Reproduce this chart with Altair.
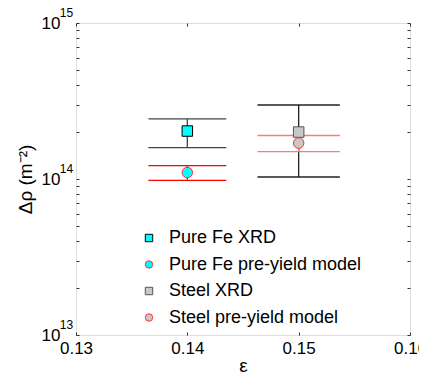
import altair as alt
import pandas as pd

# ---- data ----
series = ["Pure Fe XRD", "Pure Fe pre-yield model", "Steel XRD", "Steel pre-yield model"]
strain = [0.14, 0.14, 0.15, 0.15]
rho_center = [2.03e14, 1.10e14, 2.00e14, 1.70e14]
rho_lower = [1.59e14, 0.98e14, 1.03e14, 1.50e14]
rho_upper = [2.43e14, 1.22e14, 2.98e14, 1.90e14]
cap_half = [0.0035, 0.0035, 0.0037, 0.0037]

x_ticks = [0.13, 0.14, 0.15, 0.16]
y_decades = [13, 14, 15]
y_ticks = [m * 10 ** e for e in [13, 14] for m in range(1, 10)] + [10 ** 15]

# ---- styles ----
FONT = "Liberation Sans"
line_colors = ["#444444", "#ff0000", "#222222", "#f47c7c"]
fill_colors = ["#00ffff", "#00ffff", "#c8c8c8", "#c8c8c8"]
stroke_colors = ["#000000", "#ff3030", "#555555", "#ff3030"]
shapes = ["square", "circle", "square", "circle"]

pts = pd.DataFrame({"series": series, "eps": strain, "rho": rho_center,
                    "lo": rho_lower, "hi": rho_upper})
caps_rows = []
for s, e, lo, hi, hw in zip(series, strain, rho_lower, rho_upper, cap_half):
    for v in (lo, hi):
        caps_rows.append({"series": s, "x1": e - hw, "x2": e + hw, "y": v})
caps = pd.DataFrame(caps_rows)
exps = pd.DataFrame({"eps": [x_ticks[0]] * 3,
                     "rho": [10 ** d for d in y_decades],
                     "txt": [str(d) for d in y_decades]})

xscale = alt.Scale(domain=[0.13, 0.16], nice=False, zero=False)
yscale = alt.Scale(type="log", domain=[1e13, 1e15], nice=False)

xaxis = alt.Axis(values=x_ticks, format=".2f", title="ε", titleFontSize=19,
                 titleFont=FONT, titleFontWeight="normal", titlePadding=0,
                 labelFont=FONT, labelFontSize=17, labelPadding=5, labelFlush=False,
                 labelOverlap=False, tickSize=3, offset=-3, domain=False,
                 grid=False, tickColor="#333")
yaxis = alt.Axis(values=y_ticks, title="Δρ (m⁻²)", titleFontSize=19, titleFont=FONT,
                 titleFontWeight="normal", titlePadding=6,
                 labelExpr="(datum.value==1e13||datum.value==1e14||datum.value==1e15) ? '10' : ''",
                 labelFont=FONT, labelFontSize=17, labelPadding=16, labelOverlap=False,
                 labelFlush=False, tickSize=3, offset=-3, domain=False, grid=False,
                 tickColor="#333")

rule_layers = []
for i, (s, c) in enumerate(zip(series, line_colors)):
    cap_l = alt.Chart(caps).transform_filter(alt.datum.series == s).mark_rule(
        strokeWidth=1.3, color=c).encode(
        x=alt.X("x1:Q", scale=xscale, axis=xaxis if i == 0 else alt.Undefined),
        x2="x2:Q",
        y=alt.Y("y:Q", scale=yscale, axis=yaxis if i == 0 else alt.Undefined),
    )
    vert_l = alt.Chart(pts).transform_filter(alt.datum.series == s).mark_rule(
        strokeWidth=1.3, color=c).encode(
        x=alt.X("eps:Q", scale=xscale),
        y=alt.Y("lo:Q", scale=yscale),
        y2="hi:Q",
    )
    rule_layers += [cap_l, vert_l]

exp_layer = alt.Chart(exps).mark_text(font=FONT, fontSize=12, dx=-9.5, dy=-10,
                                      align="center", baseline="middle",
                                      color="black").encode(
    x=alt.X("eps:Q", scale=xscale),
    y=alt.Y("rho:Q", scale=yscale),
    text="txt:N",
)

base = alt.layer(*rule_layers, exp_layer)

top_x = alt.Axis(orient="top", values=x_ticks, labels=False, title=None, tickSize=3,
                 offset=-3, domain=False, grid=False, tickColor="#333")
right_y = alt.Axis(orient="right", values=y_ticks, labels=False, title=None, tickSize=3,
                   offset=-3, domain=False, grid=False, tickColor="#333")

leg = alt.Legend(title=None, orient="bottom-left", offset=8, padding=0,
                 symbolOffset=56, labelFont=FONT, labelFontSize=18, labelOffset=11,
                 rowPadding=8.5, symbolSize=55, symbolStrokeWidth=1, labelLimit=400)

marker_layer = alt.Chart(pts).mark_point(filled=True, size=110, strokeWidth=1,
                                         opacity=1).encode(
    x=alt.X("eps:Q", scale=xscale, axis=top_x),
    y=alt.Y("rho:Q", scale=yscale, axis=right_y),
    shape=alt.Shape("series:N", scale=alt.Scale(domain=series, range=shapes),
                    sort=series, legend=leg),
    fill=alt.Fill("series:N", scale=alt.Scale(domain=series, range=fill_colors),
                  sort=series, legend=leg),
    stroke=alt.Stroke("series:N", scale=alt.Scale(domain=series, range=stroke_colors),
                      sort=series, legend=leg),
)

chart = alt.layer(base, marker_layer).resolve_axis(
    x="independent", y="independent"
).properties(
    width=334, height=312,
    autosize=alt.AutoSizeParams(type="none"),
    padding={"left": 68, "top": 15, "right": 9, "bottom": 39},
).configure_view(stroke="#444", strokeWidth=1).configure(background="white")

chart.save("out.html", embed_options={"renderer": "svg", "actions": False})
